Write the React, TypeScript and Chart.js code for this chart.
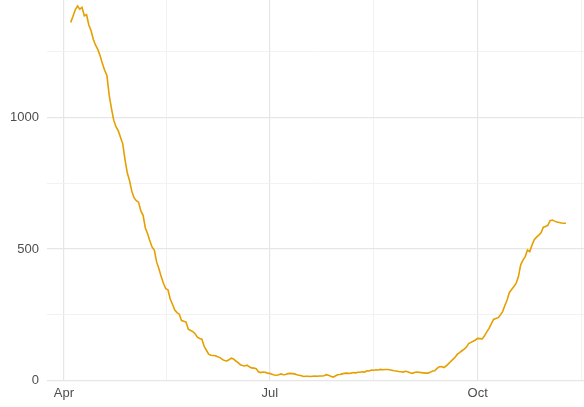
import React, { useEffect, useRef } from "react";
import { Chart, registerables } from "chart.js";

Chart.register(...registerables);

// Day 0 = 1 April. Daily values start on day 3 (4 April).
const startDay = 3;
const dailyValues: number[] = [
  1362, 1385, 1410, 1424, 1412, 1419, 1387, 1391, 1352, 1330,
  1297, 1275, 1258, 1235, 1205, 1180, 1160, 1085, 1035, 990,
  965, 950, 925, 900, 840, 790, 760, 720, 695, 684,
  678, 645, 628, 580, 558, 530, 507, 495, 450, 425,
  395, 370, 349, 345, 310, 290, 268, 258, 252, 228,
  225, 222, 195, 190, 186, 178, 165, 160, 157, 130,
  115, 100, 96, 95, 94, 90, 87, 80, 76, 74,
  79, 85, 82, 74, 68, 60, 57, 55, 58, 52,
  48, 47, 45, 33, 30, 32, 31, 28, 27, 24,
  21, 20, 22, 25, 22, 23, 26, 27, 26, 25,
  22, 20, 18, 15, 16, 16, 15, 16, 17, 16,
  17, 17, 18, 22, 20, 16, 13, 17, 22, 23,
  25, 27, 28, 27, 28, 30, 29, 31, 31, 33,
  32, 37, 36, 40, 39, 41, 40, 42, 41, 42,
  42, 41, 39, 37, 36, 34, 33, 32, 35, 33,
  29, 27, 30, 32, 31, 30, 29, 28, 28, 31,
  36, 37, 46, 52, 53, 49, 55, 63, 72, 80,
  88, 100, 106, 113, 119, 127, 140, 145, 149, 154,
  160, 159, 158, 170, 185, 198, 215, 232, 236, 238,
  249, 262, 285, 306, 335, 346, 357, 370, 395, 440,
  458, 471, 496, 490, 515, 535, 545, 553, 562, 583,
  586, 590, 608, 610, 606, 603, 601, 599, 598, 598,
];

const xMajorDays = [0, 91, 183];
const xMajorLabels = ["Apr", "Jul", "Oct"];
const xMinorDays = [45.5, 137, 229];
const yMajorTicks = [0, 500, 1000];
const yMinorTicks = [250, 750, 1250];

const MAJOR_GRID = "#e6e6e6";
const MINOR_GRID = "#f1f1f1";

export default function App() {
  const ref = useRef<HTMLCanvasElement | null>(null);

  useEffect(() => {
    document.body.style.margin = "0";
    const canvas = ref.current;
    if (!canvas) return;
    const points = dailyValues.map((v, i) => ({ x: startDay + i, y: v }));
    const xTickVals = [...xMajorDays, ...xMinorDays].sort((a, b) => a - b);
    const yTickVals = [...yMajorTicks, ...yMinorTicks].sort((a, b) => a - b);
    const font = { family: "'Liberation Sans', Arial, sans-serif", size: 13 };

    const chart = new Chart(canvas, {
      type: "line",
      data: {
        datasets: [
          {
            data: points,
            borderColor: "#E69F00",
            borderWidth: 1.6,
            pointRadius: 0,
            fill: false,
            tension: 0,
          },
        ],
      },
      options: {
        animation: false,
        responsive: false,
        devicePixelRatio: 1,
        layout: { padding: 0 },
        plugins: { legend: { display: false }, tooltip: { enabled: false } },
        scales: {
          x: {
            type: "linear",
            min: -7.5,
            max: 230,
            afterBuildTicks: (s: any) => {
              s.ticks = xTickVals.map((v) => ({ value: v }));
            },
            afterFit: (s: any) => {
              s.height = 26;
              s.paddingLeft = 0;
              s.paddingRight = 0;
            },
            border: { display: false },
            grid: {
              drawTicks: false,
              color: (c: any) =>
                c.tick && xMajorDays.includes(c.tick.value) ? MAJOR_GRID : MINOR_GRID,
              lineWidth: (c: any) =>
                c.tick && xMajorDays.includes(c.tick.value) ? 1.2 : 0.9,
            },
            ticks: {
              autoSkip: false,
              maxRotation: 0,
              padding: 5,
              color: "#4d4d4d",
              font,
              callback: (v: any) => {
                const i = xMajorDays.indexOf(Number(v));
                return i >= 0 ? xMajorLabels[i] : "";
              },
            },
          },
          y: {
            type: "linear",
            min: -2,
            max: 1447,
            afterBuildTicks: (s: any) => {
              s.ticks = yTickVals.map((v) => ({ value: v }));
            },
            afterFit: (s: any) => {
              s.width = 47;
              s.paddingTop = 0;
              s.paddingBottom = 0;
            },
            border: { display: false },
            grid: {
              drawTicks: false,
              color: (c: any) =>
                c.tick && yMajorTicks.includes(c.tick.value) ? MAJOR_GRID : MINOR_GRID,
              lineWidth: (c: any) =>
                c.tick && yMajorTicks.includes(c.tick.value) ? 1.2 : 0.9,
            },
            ticks: {
              autoSkip: false,
              padding: 8,
              color: "#4d4d4d",
              font,
              callback: (v: any) =>
                yMajorTicks.includes(Number(v)) ? String(v) : "",
            },
          },
        },
      },
    });
    return () => chart.destroy();
  }, []);

  return (
    <div style={{ width: 584, height: 407 }}>
      <canvas ref={ref} width={584} height={407} />
    </div>
  );
}
